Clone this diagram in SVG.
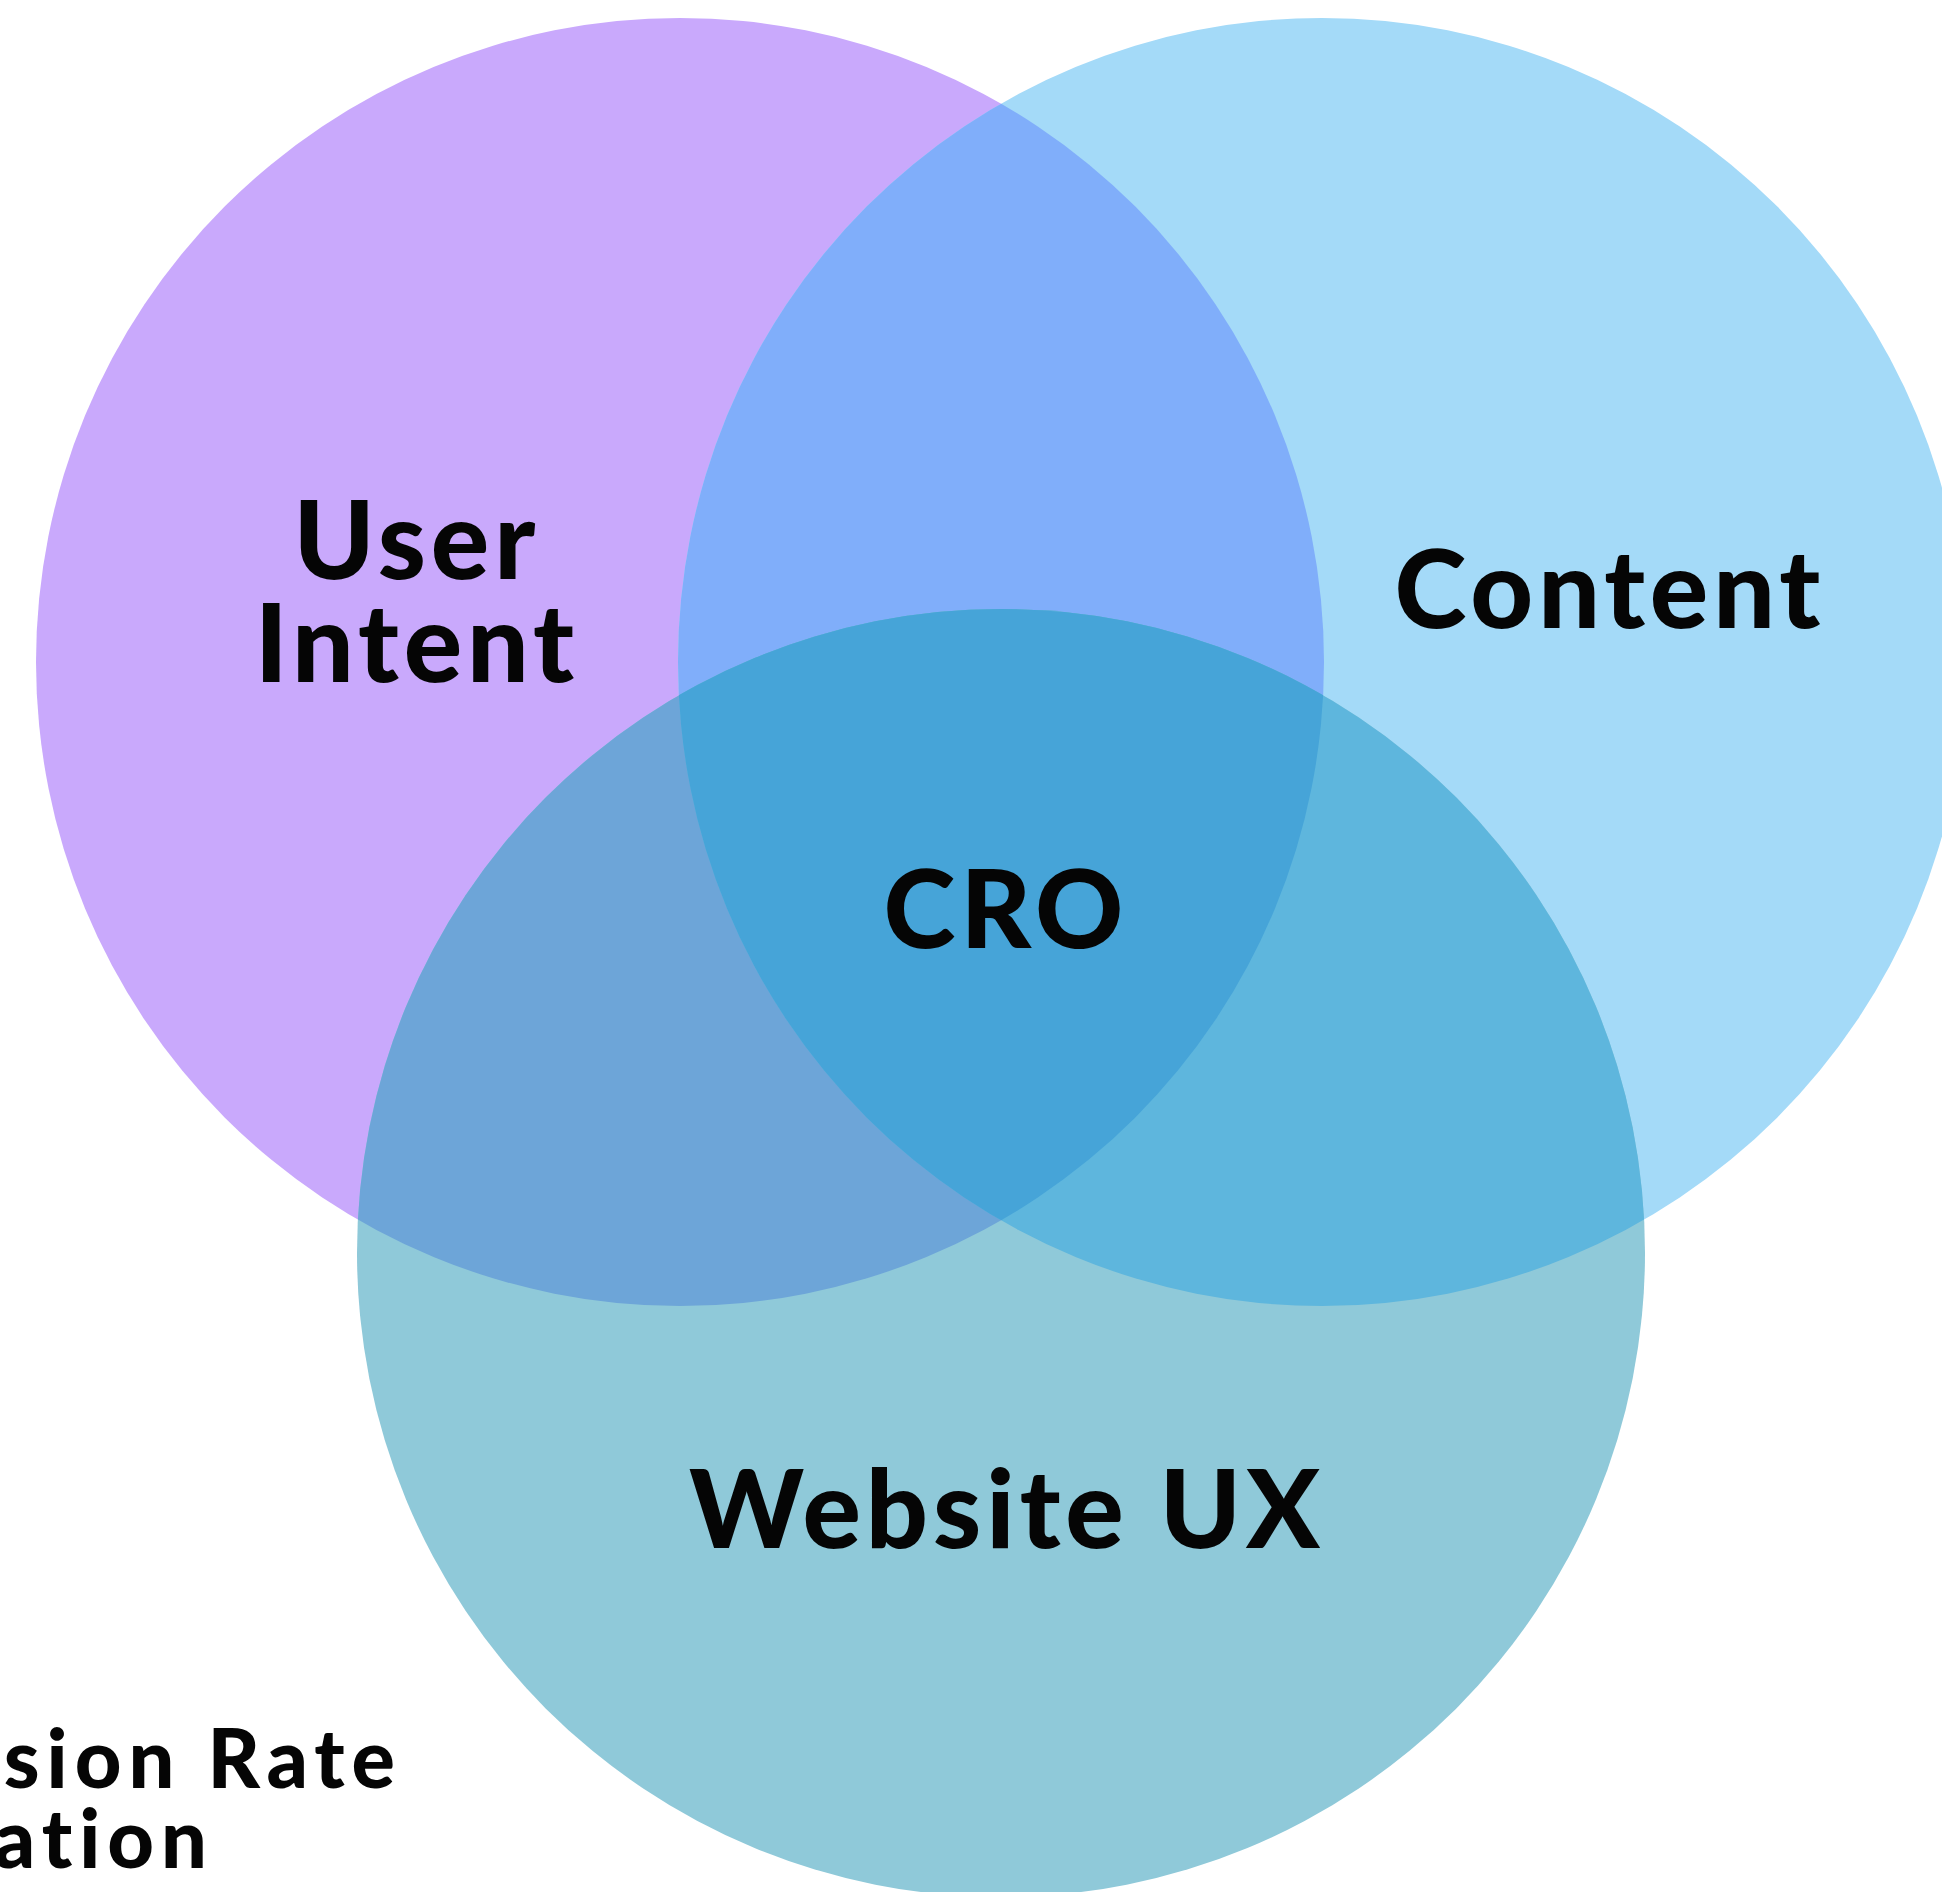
<svg xmlns="http://www.w3.org/2000/svg" width="1942" height="1892" viewBox="0 0 1942 1892">
  <style>
    .lbl { font-family: "Lato", "Liberation Sans", sans-serif; font-weight: 900; fill: #050505; font-variant-ligatures: none; }
    .big { font-size: 109px; text-anchor: middle; letter-spacing: 5px; }
    .note { font-size: 81px; text-anchor: end; letter-spacing: 7px; }
  </style>
  <defs>
    <circle id="cP" cx="680" cy="662" r="644"/>
    <circle id="cB" cx="1322" cy="662" r="644"/>
    <circle id="cT" cx="1001" cy="1253" r="644"/>
    <clipPath id="clipP"><use href="#cP"/></clipPath>
    <clipPath id="clipB"><use href="#cB"/></clipPath>
  </defs>
  <rect width="1942" height="1892" fill="#ffffff"/>
  <g id="venn">
    <use id="user-intent-circle" href="#cP" fill="#C9A9FC"/>
    <use id="content-circle" href="#cB" fill="#A4DAF8"/>
    <use href="#cB" fill="#80AEFA" clip-path="url(#clipP)"/>
    <use id="website-ux-circle" href="#cT" fill="#8FC9D9"/>
    <use href="#cT" fill="#6DA5D8" clip-path="url(#clipP)"/>
    <use href="#cT" fill="#5EB6DD" clip-path="url(#clipB)"/>
    <g clip-path="url(#clipP)">
      <use href="#cT" fill="#46A4D8" clip-path="url(#clipB)"/>
    </g>
  </g>
  <g id="node-user-intent">
    <text class="lbl big" x="417" y="579">User</text>
    <text class="lbl big" x="417" y="682">Intent</text>
  </g>
  <g id="node-content">
    <text class="lbl big" x="1610" y="628">Content</text>
  </g>
  <g id="node-cro">
    <text class="lbl big" x="1006" y="948">CRO</text>
  </g>
  <g id="node-website-ux">
    <text class="lbl big" x="1007" y="1548">Website UX</text>
  </g>
  <g id="caption">
    <text class="lbl note" x="402" y="1788">Conversion Rate</text>
    <text class="lbl note" x="214" y="1868">Optimization</text>
  </g>
  <g id="connectors"/>
</svg>
